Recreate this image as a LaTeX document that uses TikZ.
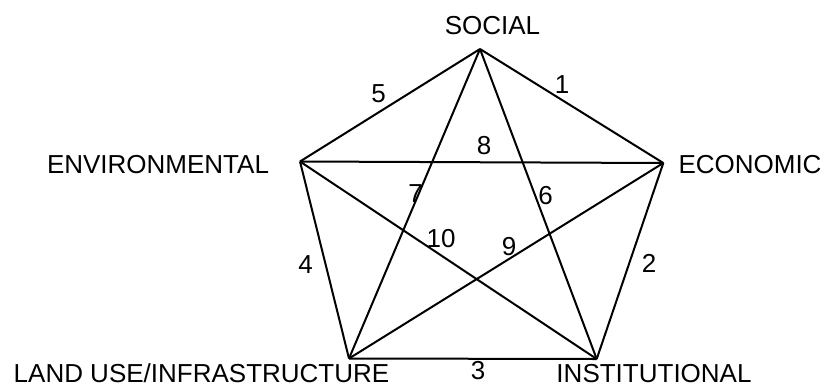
\documentclass[tikz,border=0pt]{standalone}
\usepackage{fontspec}
\setmainfont{Liberation Sans}
\tikzset{
  edge/.style={line width=2bp, line join=miter},
  lbl/.style={anchor=base, inner sep=0pt, font=\fontsize{26bp}{30bp}\selectfont},
}
\begin{document}
\begin{tikzpicture}[x=1bp,y=-1bp]
\useasboundingbox (0,0) rectangle (824,387);
\coordinate (S) at (480,49);
\coordinate (E) at (663.3,163);
\coordinate (I) at (596.7,359);
\coordinate (L) at (349,358.5);
\coordinate (V) at (300,161.5);
% pentagon
\draw[edge] (S) -- (E);
\draw[edge] (E) -- (I);
\draw[edge] (I) -- (L);
\draw[edge] (L) -- (V);
\draw[edge] (V) -- (S);
% star
\draw[edge] (S) -- (I);
\draw[edge] (S) -- (L);
\draw[edge] (V) -- (E);
\draw[edge] (V) -- (I);
\draw[edge] (E) -- (L);
% vertex labels
\node[lbl] (tS) at (492.5,34) {SOCIAL};
\node[lbl] (tV) at (158,173.3) {ENVIRONMENTAL};
\node[lbl] (tE) at (750,173.3) {ECONOMIC};
\node[lbl] (tL) at (201.5,382.5) {LAND USE/INFRASTRUCTURE};
\node[lbl] (tI) at (654,382.5) {INSTITUTIONAL};
% edge numbers
\node[lbl] (n1) at (562,93) {1};
\node[lbl] (n2) at (649,272) {2};
\node[lbl] (n3) at (478,379) {3};
\node[lbl] (n4) at (305.5,273) {4};
\node[lbl] (n5) at (378.5,102) {5};
\node[lbl] (n6) at (545.5,204) {6};
\node[lbl] (n7) at (415.5,202) {7};
\node[lbl] (n8) at (484,154) {8};
\node[lbl] (n9) at (509,255) {9};
\node[lbl] (n10) at (441,247) {10};
\end{tikzpicture}
\end{document}
